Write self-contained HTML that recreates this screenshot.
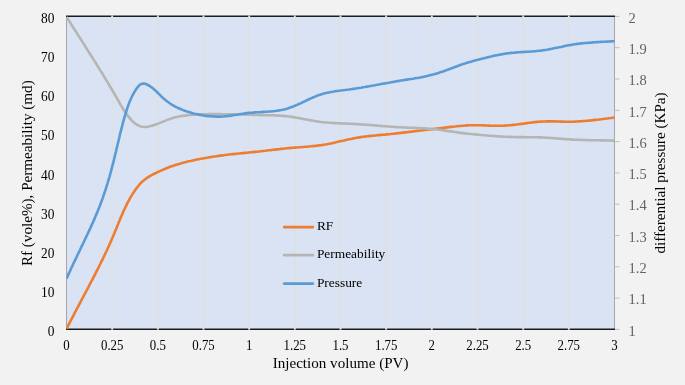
<!DOCTYPE html>
<html><head><meta charset="utf-8"><title>chart</title>
<style>html,body{margin:0;padding:0;background:#f2f2f2;}svg{display:block}text{font-family:"Liberation Serif",serif;}</style></head><body>
<svg width="685" height="385" viewBox="0 0 685 385">
<rect width="685" height="385" fill="#f2f2f2"/>
<rect x="66.5" y="16.5" width="548.0" height="312.3" fill="#dae3f3"/>
<line x1="66.5" y1="16.5" x2="66.5" y2="328.8" stroke="#a6a6a6" stroke-width="1"/>
<line x1="614.5" y1="16.5" x2="614.5" y2="328.8" stroke="#a6a6a6" stroke-width="1"/>
<line x1="614.5" y1="16.40" x2="619.5" y2="16.40" stroke="#bfbfbf" stroke-width="1"/>
<line x1="614.5" y1="47.70" x2="619.5" y2="47.70" stroke="#bfbfbf" stroke-width="1"/>
<line x1="614.5" y1="79.00" x2="619.5" y2="79.00" stroke="#bfbfbf" stroke-width="1"/>
<line x1="614.5" y1="110.30" x2="619.5" y2="110.30" stroke="#bfbfbf" stroke-width="1"/>
<line x1="614.5" y1="141.60" x2="619.5" y2="141.60" stroke="#bfbfbf" stroke-width="1"/>
<line x1="614.5" y1="172.90" x2="619.5" y2="172.90" stroke="#bfbfbf" stroke-width="1"/>
<line x1="614.5" y1="204.20" x2="619.5" y2="204.20" stroke="#bfbfbf" stroke-width="1"/>
<line x1="614.5" y1="235.50" x2="619.5" y2="235.50" stroke="#bfbfbf" stroke-width="1"/>
<line x1="614.5" y1="266.80" x2="619.5" y2="266.80" stroke="#bfbfbf" stroke-width="1"/>
<line x1="614.5" y1="298.10" x2="619.5" y2="298.10" stroke="#bfbfbf" stroke-width="1"/>
<line x1="614.5" y1="329.40" x2="619.5" y2="329.40" stroke="#bfbfbf" stroke-width="1"/>
<line x1="66.0" y1="16.3" x2="615.0" y2="16.3" stroke="#1c1c1c" stroke-width="1.4"/>
<line x1="66.0" y1="329.2" x2="615.0" y2="329.2" stroke="#1c1c1c" stroke-width="1.4"/>
<line x1="112.17" y1="15.5" x2="112.17" y2="329.8" stroke="#dee0e3" stroke-width="1.9"/>
<line x1="157.83" y1="15.5" x2="157.83" y2="329.8" stroke="#dee0e3" stroke-width="1.9"/>
<line x1="203.50" y1="15.5" x2="203.50" y2="329.8" stroke="#dee0e3" stroke-width="1.9"/>
<line x1="249.17" y1="15.5" x2="249.17" y2="329.8" stroke="#dee0e3" stroke-width="1.9"/>
<line x1="294.83" y1="15.5" x2="294.83" y2="329.8" stroke="#dee0e3" stroke-width="1.9"/>
<line x1="340.50" y1="15.5" x2="340.50" y2="329.8" stroke="#dee0e3" stroke-width="1.9"/>
<line x1="386.17" y1="15.5" x2="386.17" y2="329.8" stroke="#dee0e3" stroke-width="1.9"/>
<line x1="431.83" y1="15.5" x2="431.83" y2="329.8" stroke="#dee0e3" stroke-width="1.9"/>
<line x1="477.50" y1="15.5" x2="477.50" y2="329.8" stroke="#dee0e3" stroke-width="1.9"/>
<line x1="523.17" y1="15.5" x2="523.17" y2="329.8" stroke="#dee0e3" stroke-width="1.9"/>
<line x1="568.83" y1="15.5" x2="568.83" y2="329.8" stroke="#dee0e3" stroke-width="1.9"/>
<clipPath id="c"><rect x="66.5" y="14.5" width="548.3" height="316.3"/></clipPath>
<path d="M66.6,328.8L67.5,327.0L68.4,325.2L69.3,323.4L70.2,321.6L71.1,319.8L72.1,318.1L73.0,316.3L73.9,314.5L74.8,312.7L75.8,310.9L76.7,309.1L77.7,307.4L78.6,305.6L79.5,303.8L80.5,302.0L81.4,300.2L82.4,298.4L83.3,296.7L84.2,294.9L85.2,293.1L86.1,291.3L87.1,289.6L88.0,287.8L89.0,286.0L89.9,284.2L90.8,282.4L91.8,280.6L92.7,278.9L93.6,277.1L94.5,275.3L95.5,273.5L96.4,271.7L97.3,269.9L98.2,268.1L99.1,266.3L100.0,264.5L100.9,262.7L101.8,260.9L102.7,259.1L103.5,257.3L104.4,255.5L105.3,253.7L106.1,251.8L107.0,250.0L107.8,248.2L108.7,246.4L109.5,244.5L110.3,242.7L111.1,240.9L111.9,239.0L112.7,237.2L113.5,235.3L114.3,233.5L115.0,231.6L115.8,229.8L116.6,227.9L117.3,226.0L118.1,224.2L118.8,222.3L119.6,220.5L120.3,218.6L121.1,216.8L121.9,214.9L122.7,213.1L123.5,211.2L124.4,209.4L125.2,207.6L126.1,205.8L127.0,203.9L127.9,202.1L128.9,200.4L129.8,198.6L130.8,196.8L131.9,195.1L133.0,193.3L134.1,191.7L135.2,190.0L136.4,188.4L137.7,186.8L138.9,185.2L140.2,183.7L141.6,182.3L143.1,180.9L144.6,179.7L146.1,178.5L147.8,177.4L149.5,176.3L151.2,175.3L153.0,174.4L154.8,173.5L156.6,172.6L158.4,171.8L160.3,170.9L162.1,170.1L164.0,169.3L165.9,168.5L167.7,167.8L169.6,167.0L171.5,166.3L173.4,165.7L175.3,165.0L177.2,164.4L179.2,163.9L181.1,163.3L183.1,162.8L185.0,162.3L186.9,161.8L188.9,161.3L190.8,160.9L192.8,160.4L194.8,160.0L196.7,159.6L198.7,159.2L200.7,158.8L202.6,158.5L204.6,158.1L206.6,157.8L208.6,157.4L210.6,157.1L212.5,156.8L214.5,156.5L216.5,156.2L218.5,155.9L220.5,155.6L222.5,155.4L224.5,155.1L225.0,155.0L227.0,154.8L229.0,154.5L231.0,154.3L233.0,154.1L235.0,153.9L237.0,153.7L239.0,153.5L241.0,153.3L243.0,153.1L245.0,152.9L247.0,152.7L249.0,152.5L251.0,152.3L253.0,152.1L255.0,151.9L257.0,151.7L259.0,151.5L261.0,151.2L263.0,151.0L265.0,150.8L267.0,150.5L269.0,150.3L271.0,150.1L273.0,149.8L275.0,149.6L277.0,149.4L279.0,149.2L281.0,148.9L283.0,148.7L285.0,148.5L287.0,148.3L289.0,148.1L291.0,147.9L293.0,147.8L295.0,147.6L297.0,147.5L299.0,147.3L301.0,147.2L303.0,147.0L305.0,146.8L307.0,146.7L309.0,146.5L311.0,146.3L313.0,146.1L315.0,145.9L317.0,145.7L319.0,145.4L321.0,145.2L323.0,144.9L325.0,144.5L327.0,144.2L329.0,143.8L331.0,143.4L333.0,142.9L335.0,142.5L337.0,142.1L339.0,141.6L341.0,141.1L343.0,140.7L345.0,140.2L347.0,139.7L349.0,139.3L351.0,138.9L353.0,138.4L355.0,138.1L357.0,137.7L359.0,137.4L361.0,137.1L363.0,136.8L365.0,136.6L367.0,136.3L369.0,136.1L371.0,135.9L373.0,135.7L375.0,135.5L377.0,135.3L379.0,135.1L381.0,134.9L383.0,134.7L385.0,134.6L387.0,134.4L389.0,134.2L391.0,134.0L393.0,133.8L395.0,133.6L397.0,133.3L399.0,133.1L401.0,132.9L403.0,132.6L405.0,132.4L407.0,132.2L409.0,131.9L411.0,131.7L413.0,131.4L415.0,131.2L417.0,130.9L419.0,130.7L421.0,130.5L423.0,130.2L425.0,130.0L427.0,129.8L429.0,129.5L431.0,129.3L433.0,129.1L435.0,128.8L437.0,128.6L439.0,128.4L441.0,128.1L443.0,127.9L445.0,127.6L447.0,127.4L449.0,127.1L451.0,126.9L453.0,126.7L455.0,126.5L457.0,126.2L459.0,126.0L461.0,125.9L463.0,125.7L465.0,125.6L467.0,125.4L469.0,125.3L471.0,125.3L473.0,125.2L475.0,125.2L477.0,125.2L479.0,125.3L481.0,125.3L483.0,125.4L485.0,125.5L487.0,125.5L489.0,125.6L491.0,125.7L493.0,125.7L495.0,125.8L497.0,125.8L499.0,125.8L501.0,125.8L503.0,125.7L505.0,125.6L507.0,125.5L509.0,125.3L511.0,125.2L513.0,124.9L515.0,124.7L517.0,124.5L519.0,124.2L521.0,123.9L523.0,123.7L525.0,123.4L527.0,123.1L529.0,122.8L531.0,122.6L533.0,122.3L535.0,122.1L537.0,121.9L539.0,121.8L541.0,121.6L543.0,121.5L545.0,121.5L547.0,121.4L549.0,121.4L551.0,121.4L553.0,121.4L555.0,121.4L557.0,121.5L559.0,121.5L561.0,121.6L563.0,121.6L565.0,121.7L567.0,121.7L569.0,121.7L571.0,121.7L573.0,121.7L575.0,121.6L577.0,121.5L579.0,121.4L581.0,121.3L583.0,121.1L585.0,121.0L587.0,120.8L589.0,120.6L591.0,120.4L593.0,120.1L595.0,119.9L597.0,119.7L599.0,119.5L601.0,119.2L603.0,119.0L605.0,118.7L607.0,118.5L609.0,118.2L611.0,118.0L613.0,117.7L614.5,117.5" fill="none" stroke="#ed7d31" stroke-width="2.6" stroke-linecap="butt" stroke-linejoin="round" clip-path="url(#c)"/>
<path d="M66.6,17.0L67.7,18.7L68.7,20.4L69.8,22.1L70.9,23.8L72.0,25.5L73.0,27.2L74.1,28.9L75.2,30.5L76.3,32.2L77.3,33.9L78.4,35.6L79.5,37.3L80.6,39.0L81.7,40.7L82.7,42.4L83.8,44.1L84.9,45.8L86.0,47.5L87.0,49.2L88.1,50.9L89.2,52.6L90.3,54.3L91.3,56.0L92.4,57.7L93.5,59.4L94.5,61.1L95.6,62.8L96.7,64.5L97.7,66.2L98.8,67.9L99.8,69.6L100.9,71.3L102.0,73.0L103.0,74.7L104.0,76.5L105.1,78.2L106.1,79.9L107.2,81.6L108.2,83.3L109.2,85.0L110.2,86.8L111.2,88.5L112.3,90.2L113.3,92.0L114.3,93.7L115.3,95.4L116.3,97.2L117.3,98.9L118.3,100.6L119.2,102.4L120.2,104.1L121.2,105.8L122.3,107.5L123.3,109.3L124.4,111.0L125.5,112.6L126.7,114.3L127.9,115.9L129.1,117.5L130.5,119.0L131.8,120.6L133.3,122.0L134.9,123.3L136.5,124.5L138.3,125.4L140.2,126.2L142.1,126.7L144.0,127.0L146.0,127.0L147.9,126.8L149.9,126.3L151.8,125.8L153.7,125.2L155.6,124.5L157.5,123.9L159.3,123.1L161.2,122.4L163.1,121.6L164.9,120.9L166.8,120.1L168.7,119.4L170.6,118.8L172.4,118.1L174.4,117.6L176.3,117.1L178.3,116.7L180.2,116.3L182.2,115.9L184.2,115.6L186.2,115.4L188.2,115.1L190.2,114.9L192.3,114.8L194.3,114.6L196.3,114.5L198.3,114.4L200.3,114.3L202.3,114.2L204.3,114.2L206.3,114.2L208.3,114.1L210.3,114.1L212.3,114.1L214.3,114.1L216.3,114.1L218.3,114.1L220.3,114.1L222.3,114.2L224.3,114.2L225.0,114.2L227.0,114.2L229.0,114.2L231.0,114.2L233.0,114.3L235.0,114.3L237.0,114.4L239.0,114.4L241.0,114.5L243.0,114.5L245.0,114.6L247.0,114.7L249.0,114.7L251.0,114.8L253.0,114.9L255.0,114.9L257.0,115.0L259.0,115.0L261.0,115.1L263.0,115.1L265.0,115.1L267.0,115.2L269.0,115.2L271.0,115.3L273.0,115.3L275.0,115.4L277.0,115.5L279.0,115.6L281.0,115.7L283.0,115.9L285.0,116.1L287.0,116.3L289.0,116.5L291.0,116.8L293.0,117.1L295.0,117.4L297.0,117.8L299.0,118.1L301.0,118.5L303.0,118.9L305.0,119.3L307.0,119.6L309.0,120.0L311.0,120.4L313.0,120.7L315.0,121.1L317.0,121.4L319.0,121.7L321.0,122.0L323.0,122.2L325.0,122.4L327.0,122.5L329.0,122.7L331.0,122.8L333.0,123.0L335.0,123.1L337.0,123.2L339.0,123.3L341.0,123.4L343.0,123.5L345.0,123.5L347.0,123.6L349.0,123.7L351.0,123.8L353.0,123.9L355.0,124.0L357.0,124.1L359.0,124.2L361.0,124.4L363.0,124.5L365.0,124.7L367.0,124.8L369.0,125.0L371.0,125.1L373.0,125.3L375.0,125.4L377.0,125.6L379.0,125.8L381.0,125.9L383.0,126.1L385.0,126.2L387.0,126.4L389.0,126.5L391.0,126.7L393.0,126.8L395.0,127.0L397.0,127.1L399.0,127.2L401.0,127.3L403.0,127.4L405.0,127.5L407.0,127.6L409.0,127.7L411.0,127.7L413.0,127.8L415.0,127.9L417.0,128.0L419.0,128.1L421.0,128.2L423.0,128.3L425.0,128.4L427.0,128.6L429.0,128.8L431.0,128.9L433.0,129.1L435.0,129.3L437.0,129.5L439.0,129.8L441.0,130.0L443.0,130.3L445.0,130.6L447.0,130.9L449.0,131.2L451.0,131.4L453.0,131.7L455.0,132.0L457.0,132.3L459.0,132.6L461.0,132.9L463.0,133.1L465.0,133.4L467.0,133.6L469.0,133.8L471.0,134.0L473.0,134.2L475.0,134.4L477.0,134.6L479.0,134.8L481.0,135.0L483.0,135.2L485.0,135.3L487.0,135.5L489.0,135.7L491.0,135.8L493.0,136.0L495.0,136.1L497.0,136.2L499.0,136.4L501.0,136.5L503.0,136.6L505.0,136.7L507.0,136.8L509.0,136.9L511.0,136.9L513.0,137.0L515.0,137.0L517.0,137.1L519.0,137.1L521.0,137.1L523.0,137.1L525.0,137.1L527.0,137.2L529.0,137.2L531.0,137.2L533.0,137.2L535.0,137.3L537.0,137.3L539.0,137.4L541.0,137.4L543.0,137.5L545.0,137.6L547.0,137.8L549.0,137.9L551.0,138.0L553.0,138.1L555.0,138.3L557.0,138.4L559.0,138.6L561.0,138.7L563.0,138.9L565.0,139.0L567.0,139.2L569.0,139.3L571.0,139.4L573.0,139.6L575.0,139.7L577.0,139.8L579.0,139.8L581.0,139.9L583.0,140.0L585.0,140.0L587.0,140.1L589.0,140.2L591.0,140.2L593.0,140.2L595.0,140.3L597.0,140.3L599.0,140.3L601.0,140.4L603.0,140.4L605.0,140.4L607.0,140.5L609.0,140.5L611.0,140.5L613.0,140.6L614.5,140.6" fill="none" stroke="#b5b5b4" stroke-width="2.6" stroke-linecap="butt" stroke-linejoin="round" clip-path="url(#c)"/>
<path d="M66.6,278.6L67.4,276.8L68.2,274.9L69.0,273.1L69.9,271.3L70.7,269.5L71.5,267.6L72.4,265.8L73.2,264.0L74.1,262.2L75.0,260.4L75.8,258.6L76.7,256.8L77.5,254.9L78.4,253.1L79.3,251.3L80.2,249.5L81.0,247.7L81.9,245.9L82.8,244.1L83.6,242.3L84.5,240.5L85.4,238.7L86.2,236.8L87.1,235.0L87.9,233.2L88.8,231.4L89.6,229.6L90.5,227.7L91.3,225.9L92.1,224.1L93.0,222.2L93.8,220.4L94.6,218.6L95.3,216.7L96.1,214.9L96.9,213.0L97.7,211.2L98.4,209.3L99.2,207.5L99.9,205.6L100.6,203.7L101.3,201.8L102.0,200.0L102.7,198.1L103.3,196.2L104.0,194.3L104.6,192.4L105.3,190.5L105.9,188.6L106.5,186.7L107.1,184.8L107.7,182.8L108.2,180.9L108.8,179.0L109.4,177.1L109.9,175.1L110.5,173.2L111.0,171.2L111.5,169.3L112.0,167.4L112.5,165.4L113.0,163.5L113.5,161.6L114.0,159.6L114.5,157.7L114.9,155.7L115.4,153.8L115.9,151.8L116.3,149.9L116.8,147.9L117.3,146.0L117.7,144.0L118.2,142.1L118.7,140.1L119.1,138.2L119.6,136.2L120.0,134.3L120.5,132.3L121.0,130.4L121.5,128.4L122.0,126.5L122.5,124.6L123.0,122.6L123.5,120.7L124.1,118.7L124.6,116.8L125.2,114.9L125.8,112.9L126.4,111.0L127.0,109.1L127.6,107.2L128.3,105.3L129.0,103.4L129.7,101.5L130.5,99.7L131.4,97.8L132.2,96.0L133.2,94.2L134.2,92.4L135.2,90.7L136.3,89.0L137.5,87.3L138.8,85.8L140.2,84.6L141.7,83.8L143.4,83.5L145.2,83.8L147.0,84.5L148.9,85.5L150.7,86.7L152.4,87.9L154.0,89.2L155.5,90.6L157.0,92.0L158.4,93.5L159.9,94.9L161.3,96.3L162.7,97.7L164.2,99.0L165.7,100.3L167.3,101.5L168.9,102.7L170.5,103.8L172.2,104.8L174.0,105.8L175.7,106.8L177.5,107.7L179.3,108.5L181.2,109.3L183.0,110.1L184.9,110.8L186.8,111.4L188.7,112.1L190.6,112.6L192.6,113.2L194.5,113.7L196.5,114.1L198.5,114.6L200.5,114.9L202.4,115.3L204.4,115.6L206.4,115.9L208.4,116.1L210.4,116.3L212.4,116.4L214.4,116.5L216.4,116.6L218.4,116.6L220.4,116.6L222.4,116.5L224.3,116.4L225.0,116.3L227.0,116.1L229.0,115.9L231.0,115.6L233.0,115.3L235.0,115.0L237.0,114.7L239.0,114.3L241.0,114.0L243.0,113.7L245.0,113.4L247.0,113.1L249.0,112.9L251.0,112.7L253.0,112.6L255.0,112.4L257.0,112.3L259.0,112.2L261.0,112.1L263.0,111.9L265.0,111.8L267.0,111.7L269.0,111.5L271.0,111.4L273.0,111.2L275.0,111.0L277.0,110.7L279.0,110.4L281.0,110.0L283.0,109.7L285.0,109.2L287.0,108.7L289.0,108.0L291.0,107.3L293.0,106.6L295.0,105.8L297.0,104.9L299.0,104.0L301.0,103.1L303.0,102.1L305.0,101.2L307.0,100.2L309.0,99.3L311.0,98.4L313.0,97.5L315.0,96.6L317.0,95.8L319.0,95.1L321.0,94.4L323.0,93.8L325.0,93.3L327.0,92.8L329.0,92.4L331.0,92.0L333.0,91.7L335.0,91.3L337.0,91.0L339.0,90.7L341.0,90.5L343.0,90.2L345.0,90.0L347.0,89.7L349.0,89.5L351.0,89.2L353.0,88.9L355.0,88.7L357.0,88.3L359.0,88.0L361.0,87.7L363.0,87.3L365.0,87.0L367.0,86.6L369.0,86.3L371.0,85.9L373.0,85.5L375.0,85.2L377.0,84.8L379.0,84.5L381.0,84.1L383.0,83.7L385.0,83.4L387.0,83.0L389.0,82.7L391.0,82.3L393.0,81.9L395.0,81.6L397.0,81.2L399.0,80.9L401.0,80.5L403.0,80.2L405.0,79.9L407.0,79.6L409.0,79.3L411.0,79.0L413.0,78.7L415.0,78.3L417.0,78.0L419.0,77.7L421.0,77.3L423.0,76.9L425.0,76.5L427.0,76.1L429.0,75.6L431.0,75.1L433.0,74.6L435.0,74.0L437.0,73.4L439.0,72.8L441.0,72.1L443.0,71.4L445.0,70.7L447.0,69.9L449.0,69.2L451.0,68.5L453.0,67.7L455.0,67.0L457.0,66.2L459.0,65.5L461.0,64.8L463.0,64.1L465.0,63.5L467.0,62.8L469.0,62.2L471.0,61.7L473.0,61.1L475.0,60.5L477.0,60.0L479.0,59.5L481.0,58.9L483.0,58.4L485.0,57.9L487.0,57.4L489.0,56.9L491.0,56.5L493.0,56.0L495.0,55.6L497.0,55.2L499.0,54.8L501.0,54.4L503.0,54.1L505.0,53.7L507.0,53.4L509.0,53.2L511.0,52.9L513.0,52.7L515.0,52.6L517.0,52.4L519.0,52.3L521.0,52.1L523.0,52.0L525.0,51.9L527.0,51.8L529.0,51.7L531.0,51.5L533.0,51.4L535.0,51.2L537.0,51.0L539.0,50.8L541.0,50.6L543.0,50.3L545.0,50.0L547.0,49.7L549.0,49.3L551.0,48.9L553.0,48.5L555.0,48.1L557.0,47.7L559.0,47.3L561.0,46.9L563.0,46.4L565.0,46.0L567.0,45.6L569.0,45.2L571.0,44.9L573.0,44.5L575.0,44.2L577.0,43.9L579.0,43.7L581.0,43.4L583.0,43.2L585.0,43.0L587.0,42.9L589.0,42.7L591.0,42.6L593.0,42.4L595.0,42.3L597.0,42.1L599.0,42.0L601.0,41.9L603.0,41.8L605.0,41.7L607.0,41.6L609.0,41.5L611.0,41.4L613.0,41.3L614.5,41.2" fill="none" stroke="#5b9bd5" stroke-width="2.6" stroke-linecap="butt" stroke-linejoin="round" clip-path="url(#c)"/>
<text transform="translate(54.4,336.0) scale(1,1.07)" font-size="13.4" text-anchor="end" fill="#000">0</text>
<text transform="translate(54.4,296.9) scale(1,1.07)" font-size="13.4" text-anchor="end" fill="#000">10</text>
<text transform="translate(54.4,257.8) scale(1,1.07)" font-size="13.4" text-anchor="end" fill="#000">20</text>
<text transform="translate(54.4,218.6) scale(1,1.07)" font-size="13.4" text-anchor="end" fill="#000">30</text>
<text transform="translate(54.4,179.5) scale(1,1.07)" font-size="13.4" text-anchor="end" fill="#000">40</text>
<text transform="translate(54.4,140.4) scale(1,1.07)" font-size="13.4" text-anchor="end" fill="#000">50</text>
<text transform="translate(54.4,101.2) scale(1,1.07)" font-size="13.4" text-anchor="end" fill="#000">60</text>
<text transform="translate(54.4,62.1) scale(1,1.07)" font-size="13.4" text-anchor="end" fill="#000">70</text>
<text transform="translate(54.4,23.0) scale(1,1.07)" font-size="13.4" text-anchor="end" fill="#000">80</text>
<text transform="translate(628.6,335.6) scale(1,1.07)" font-size="14.5" fill="#626262">1</text>
<text transform="translate(628.6,304.3) scale(1,1.07)" font-size="14.5" fill="#626262">1.1</text>
<text transform="translate(628.6,273.0) scale(1,1.07)" font-size="14.5" fill="#626262">1.2</text>
<text transform="translate(628.6,241.7) scale(1,1.07)" font-size="14.5" fill="#626262">1.3</text>
<text transform="translate(628.6,210.4) scale(1,1.07)" font-size="14.5" fill="#626262">1.4</text>
<text transform="translate(628.6,179.1) scale(1,1.07)" font-size="14.5" fill="#626262">1.5</text>
<text transform="translate(628.6,147.8) scale(1,1.07)" font-size="14.5" fill="#626262">1.6</text>
<text transform="translate(628.6,116.5) scale(1,1.07)" font-size="14.5" fill="#626262">1.7</text>
<text transform="translate(628.6,85.2) scale(1,1.07)" font-size="14.5" fill="#626262">1.8</text>
<text transform="translate(628.6,53.9) scale(1,1.07)" font-size="14.5" fill="#626262">1.9</text>
<text transform="translate(628.6,22.6) scale(1,1.07)" font-size="14.5" fill="#626262">2</text>
<text transform="translate(66.5,349.9) scale(1,1.10)" font-size="12.85" text-anchor="middle" fill="#000">0</text>
<text transform="translate(112.2,349.9) scale(1,1.10)" font-size="12.85" text-anchor="middle" fill="#000">0.25</text>
<text transform="translate(157.8,349.9) scale(1,1.10)" font-size="12.85" text-anchor="middle" fill="#000">0.5</text>
<text transform="translate(203.5,349.9) scale(1,1.10)" font-size="12.85" text-anchor="middle" fill="#000">0.75</text>
<text transform="translate(249.2,349.9) scale(1,1.10)" font-size="12.85" text-anchor="middle" fill="#000">1</text>
<text transform="translate(294.8,349.9) scale(1,1.10)" font-size="12.85" text-anchor="middle" fill="#000">1.25</text>
<text transform="translate(340.5,349.9) scale(1,1.10)" font-size="12.85" text-anchor="middle" fill="#000">1.5</text>
<text transform="translate(386.2,349.9) scale(1,1.10)" font-size="12.85" text-anchor="middle" fill="#000">1.75</text>
<text transform="translate(431.8,349.9) scale(1,1.10)" font-size="12.85" text-anchor="middle" fill="#000">2</text>
<text transform="translate(477.5,349.9) scale(1,1.10)" font-size="12.85" text-anchor="middle" fill="#000">2.25</text>
<text transform="translate(523.2,349.9) scale(1,1.10)" font-size="12.85" text-anchor="middle" fill="#000">2.5</text>
<text transform="translate(568.8,349.9) scale(1,1.10)" font-size="12.85" text-anchor="middle" fill="#000">2.75</text>
<text transform="translate(614.5,349.9) scale(1,1.10)" font-size="12.85" text-anchor="middle" fill="#000">3</text>
<text transform="translate(340.6,368) scale(0.983,1)" font-size="15.35" text-anchor="middle" fill="#000">Injection volume (PV)</text>
<text transform="translate(32.1,173.2) rotate(-90)" font-size="15.15" text-anchor="middle" fill="#000">Rf (vole%), Permeability (md)</text>
<text transform="translate(664.9,173.0) rotate(-90)" font-size="15.15" text-anchor="middle" fill="#000">differential pressure (KPa)</text>
<line x1="284.2" y1="227.1" x2="312.8" y2="227.1" stroke="#ed7d31" stroke-width="2.8" stroke-linecap="round"/>
<text x="316.9" y="230.1" font-size="13.4" fill="#000">RF</text>
<line x1="284.2" y1="255.2" x2="312.8" y2="255.2" stroke="#b5b5b4" stroke-width="2.8" stroke-linecap="round"/>
<text x="316.9" y="258.2" font-size="13.4" fill="#000">Permeability</text>
<line x1="284.2" y1="283.6" x2="312.8" y2="283.6" stroke="#5b9bd5" stroke-width="2.8" stroke-linecap="round"/>
<text x="316.9" y="286.6" font-size="13.4" fill="#000">Pressure</text>
</svg></body></html>
